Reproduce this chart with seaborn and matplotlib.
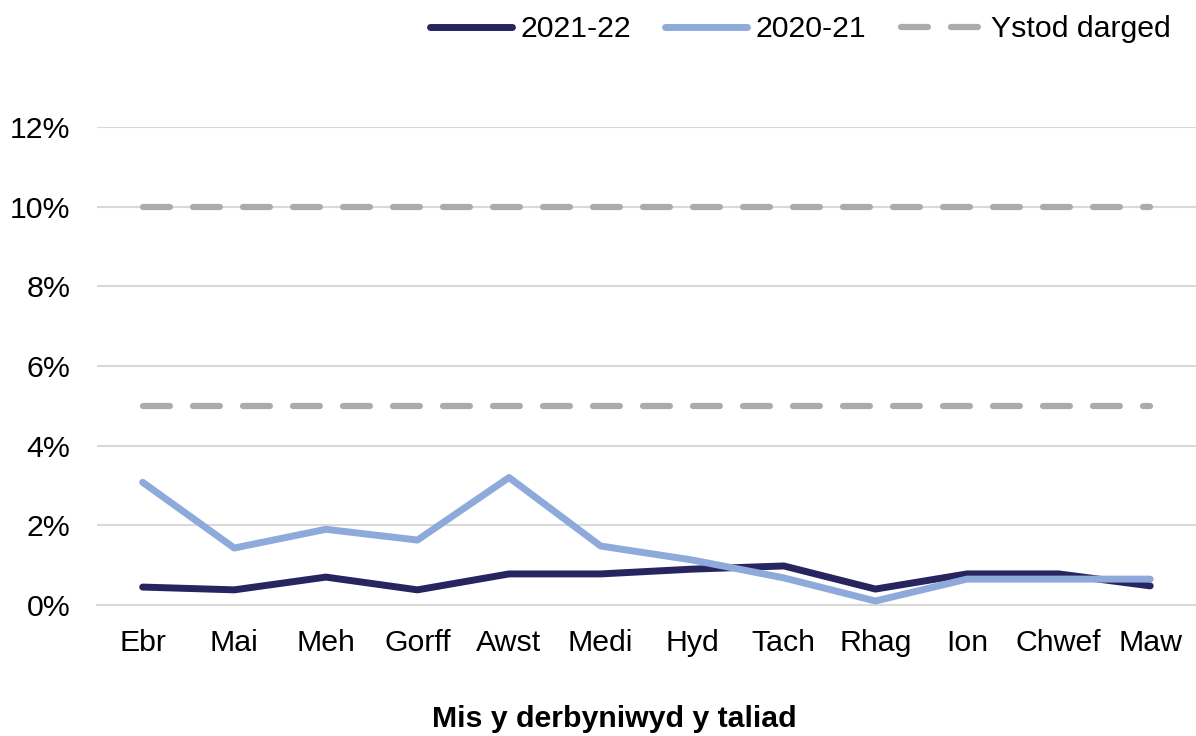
import matplotlib
matplotlib.use("Agg")
import matplotlib.pyplot as plt
import seaborn as sns
import pandas as pd
import numpy as np

months = ["Ebr", "Mai", "Meh", "Gorff", "Awst", "Medi", "Hyd", "Tach", "Rhag", "Ion", "Chwef", "Maw"]
y2122 = [0.45, 0.38, 0.70, 0.38, 0.78, 0.78, 0.90, 0.98, 0.40, 0.78, 0.78, 0.48]
y2021 = [3.08, 1.43, 1.90, 1.63, 3.20, 1.48, 1.13, 0.68, 0.10, 0.65, 0.65, 0.65]
target_low = [5] * 12
target_high = [10] * 12

sns.set_style("white")
plt.rcParams["font.family"] = ["Liberation Sans", "DejaVu Sans"]
plt.rcParams["text.color"] = "black"
plt.rcParams["xtick.color"] = "black"
plt.rcParams["ytick.color"] = "black"

df = pd.DataFrame({
    "Mis": list(range(12)) * 2,
    "Gwerth": y2122 + y2021,
    "Blwyddyn": ["2021-22"] * 12 + ["2020-21"] * 12,
})

fs = 21.8
fig = plt.figure(figsize=(11.96, 7.36), dpi=100)
ax = fig.add_axes([0.081, 0.178, 0.919, 0.6495])

grey = "#aeaaaa"
ax.plot(range(12), target_high, color=grey, lw=4.5, ls=(0, (4.3, 3.7)), dash_capstyle="round",
        label="Ystod darged", zorder=2)
ax.plot(range(12), target_low, color=grey, lw=4.5, ls=(0, (4.3, 3.7)), dash_capstyle="round",
        label="_nolegend_", zorder=2)

sns.lineplot(data=df, x="Mis", y="Gwerth", hue="Blwyddyn",
             hue_order=["2021-22", "2020-21"],
             palette={"2021-22": "#27245f", "2020-21": "#8eaadb"},
             lw=5, ax=ax, zorder=3)
for ln in ax.lines:
    ln.set_solid_capstyle("round")

ax.set_xlim(-0.5, 11.5)
ax.set_ylim(0, 12)
ax.set_yticks(np.arange(0, 13, 2))
ax.set_yticklabels([f"{v}%" for v in range(0, 13, 2)])
ax.set_xticks(range(12))
ax.set_xticklabels(months)
ax.set_xticks(np.arange(-0.5, 12, 1), minor=True)
ax.tick_params(axis="x", which="major", length=0, pad=17, labelsize=fs)
ax.tick_params(axis="x", which="minor", length=8, color="#d9d9d9", width=1.5)
ax.tick_params(axis="y", length=0, pad=19, labelsize=fs)
ax.yaxis.grid(True, color="#d9d9d9", lw=1.5)
ax.set_axisbelow(True)
for s in ["top", "right", "left"]:
    ax.spines[s].set_visible(False)
ax.spines["bottom"].set_color("#d9d9d9")
ax.spines["bottom"].set_linewidth(1.5)
ax.set_xlabel("")
ax.set_ylabel("")

fig.text(614 / 1196, 1 - 719 / 736, "Mis y derbyniwyd y taliad", ha="center", va="center",
         fontsize=fs, fontweight="bold")

h, l = ax.get_legend_handles_labels()
order = [l.index("2021-22"), l.index("2020-21"), l.index("Ystod darged")]
ax.legend([h[i] for i in order], [l[i] for i in order], loc="upper right",
          bbox_to_anchor=(1.002, 1.016), bbox_transform=fig.transFigure,
          ncol=3, frameon=False, fontsize=fs, handlelength=2.7, handletextpad=0.28,
          columnspacing=1.15)

fig.savefig("out.png", dpi=100)
